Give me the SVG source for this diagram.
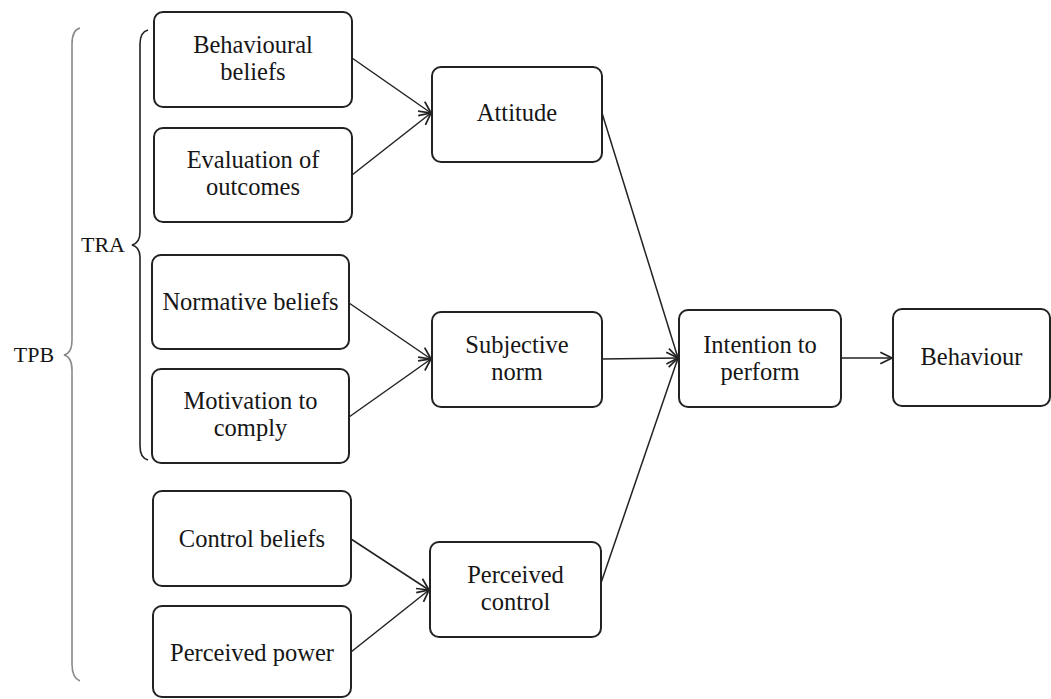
<svg xmlns="http://www.w3.org/2000/svg" width="1051" height="699" viewBox="0 0 1051 699">
  <style>
    .box { fill: #ffffff; stroke: #222222; stroke-width: 2; }
    .lbl { font-family: 'Liberation Serif', 'DejaVu Serif', serif; font-size: 24.5px; fill: #161616; text-anchor: middle; }
    .tag { font-family: 'Liberation Serif', 'DejaVu Serif', serif; font-size: 22px; fill: #161616; text-anchor: middle; }
    .edge { fill: none; stroke: #222222; stroke-width: 1.5; marker-end: url(#arrow); }
    .brace { fill: none; stroke-width: 1.6; }
  </style>
  <defs>
    <marker id="arrow" markerUnits="userSpaceOnUse" markerWidth="14" markerHeight="14" viewBox="0 0 12 12" refX="11" refY="6" orient="auto">
      <path d="M1,1 L11,6 L1,11" fill="none" stroke="#222222" stroke-width="1.5"/>
    </marker>
  </defs>
  <rect width="1051" height="699" fill="#ffffff"/>

  <!-- grouping braces -->
  <g id="braces">
    <path class="brace" stroke="#8a8a8a" d="M80,28 Q72,30 72,44 L72,340 Q72,353 64,355 Q72,357 72,370 L72,664 Q72,678 80,681"/>
    <text class="tag" x="34" y="362" font-family="Liberation Serif">TPB</text>
    <path class="brace" stroke="#222222" d="M148,30 Q140,32 140,44 L140,232 Q140,243 132,245 Q140,247 140,258 L140,446 Q140,458 148,460"/>
    <text class="tag" x="103" y="252" font-family="Liberation Serif">TRA</text>
  </g>

  <!-- connectors -->
  <g id="connectors">
    <path class="edge" d="M352,58 L431,113"/>
    <path class="edge" d="M352,175 L431,113"/>
    <path class="edge" d="M349,303 L431,359"/>
    <path class="edge" d="M349,417 L431,359"/>
    <path class="edge" d="M351,539 L429,590"/>
    <path class="edge" d="M351,652 L429,590"/>
    <path class="edge" d="M602,113 L678,358"/>
    <path class="edge" d="M602,359 L678,358"/>
    <path class="edge" d="M601,583 L678,358"/>
    <path class="edge" d="M841,358 L892,358"/>
  </g>

  <!-- belief nodes -->
  <g id="behavioural-beliefs">
    <rect class="box" x="154" y="12" width="198" height="95" rx="9"/>
    <text class="lbl" x="253" y="53">Behavioural</text>
    <text class="lbl" x="253" y="80">beliefs</text>
  </g>
  <g id="evaluation-of-outcomes">
    <rect class="box" x="154" y="128" width="198" height="94" rx="9"/>
    <text class="lbl" x="253" y="168">Evaluation of</text>
    <text class="lbl" x="253" y="195">outcomes</text>
  </g>
  <g id="normative-beliefs">
    <rect class="box" x="152" y="255" width="197" height="94" rx="9"/>
    <text class="lbl" x="250.5" y="310">Normative beliefs</text>
  </g>
  <g id="motivation-to-comply">
    <rect class="box" x="152" y="369" width="197" height="94" rx="9"/>
    <text class="lbl" x="250.5" y="409">Motivation to</text>
    <text class="lbl" x="250.5" y="436">comply</text>
  </g>
  <g id="control-beliefs">
    <rect class="box" x="153" y="491" width="198" height="95" rx="9"/>
    <text class="lbl" x="252" y="547">Control beliefs</text>
  </g>
  <g id="perceived-power">
    <rect class="box" x="153" y="606" width="198" height="91" rx="9"/>
    <text class="lbl" x="252" y="661">Perceived power</text>
  </g>

  <!-- intermediate constructs -->
  <g id="attitude">
    <rect class="box" x="432" y="67" width="170" height="95" rx="9"/>
    <text class="lbl" x="517" y="121">Attitude</text>
  </g>
  <g id="subjective-norm">
    <rect class="box" x="432" y="312" width="170" height="95" rx="9"/>
    <text class="lbl" x="517" y="353">Subjective</text>
    <text class="lbl" x="517" y="380">norm</text>
  </g>
  <g id="perceived-control">
    <rect class="box" x="430" y="542" width="171" height="95" rx="9"/>
    <text class="lbl" x="515.5" y="583">Perceived</text>
    <text class="lbl" x="515.5" y="610">control</text>
  </g>

  <!-- outcome nodes -->
  <g id="intention-to-perform">
    <rect class="box" x="679" y="310" width="162" height="97" rx="9"/>
    <text class="lbl" x="760" y="353">Intention to</text>
    <text class="lbl" x="760" y="380">perform</text>
  </g>
  <g id="behaviour">
    <rect class="box" x="893" y="309" width="157" height="97" rx="9"/>
    <text class="lbl" x="971.5" y="365">Behaviour</text>
  </g>
</svg>
